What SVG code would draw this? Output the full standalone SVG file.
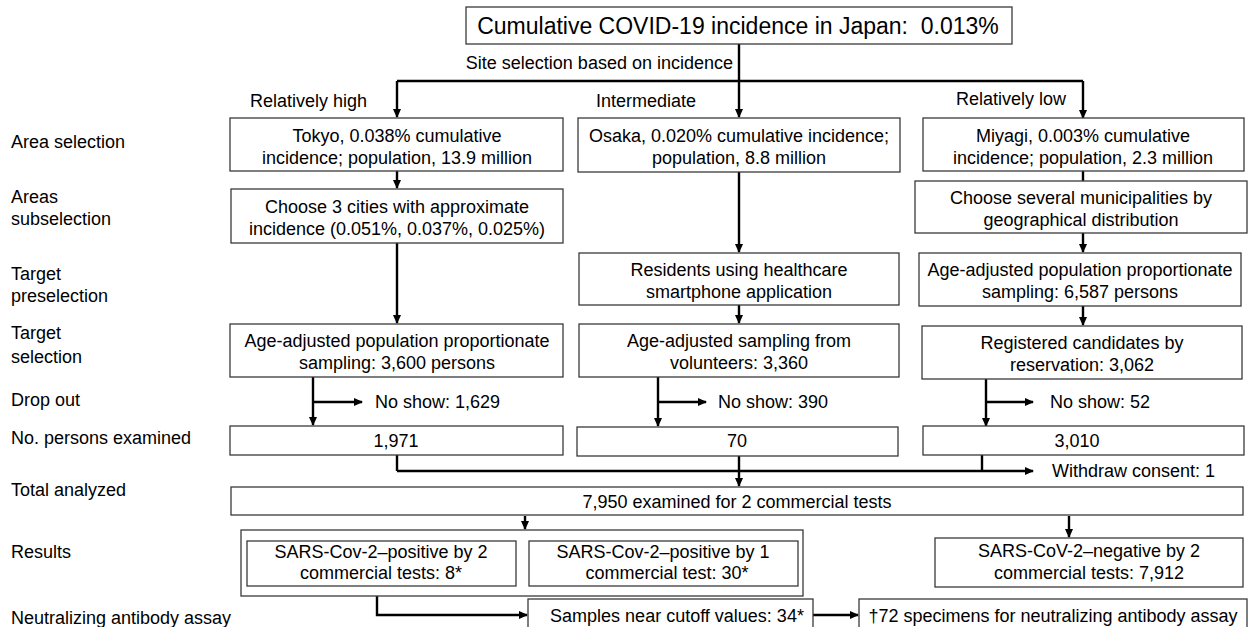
<svg xmlns="http://www.w3.org/2000/svg" width="1251" height="627" viewBox="0 0 1251 627">
<defs>
<style>
text{font-family:"Liberation Sans",Arial,sans-serif;font-size:18px;fill:#000}
.t{font-size:23px}
.c{text-anchor:middle}
.box{fill:#fff;stroke:#3a3a3a;stroke-width:1.3}
.ln{fill:none;stroke:#000;stroke-width:2.4}
.ar{fill:none;stroke:#000;stroke-width:2.4;marker-end:url(#ah)}
</style>
<marker id="ah" markerUnits="userSpaceOnUse" markerWidth="10" markerHeight="10" refX="8" refY="4" orient="auto">
<path d="M0,0 L9,4 L0,8 Z" fill="#000"/>
</marker>
</defs>
<rect width="1251" height="627" fill="#fff"/>

<g id="labels">
<text x="11" y="148">Area selection</text>
<text x="11" y="203">Areas</text>
<text x="11" y="225">subselection</text>
<text x="11" y="280">Target</text>
<text x="11" y="302">preselection</text>
<text x="11" y="339">Target</text>
<text x="11" y="363">selection</text>
<text x="11" y="406">Drop out</text>
<text x="11" y="444">No. persons examined</text>
<text x="11" y="496">Total analyzed</text>
<text x="11" y="558">Results</text>
<text x="11" y="624">Neutralizing antibody assay</text>
<text x="733" y="69" text-anchor="end">Site selection based on incidence</text>
<text x="250" y="107">Relatively high</text>
<text x="596" y="107">Intermediate</text>
<text x="956" y="105">Relatively low</text>
<text x="375" y="408">No show: 1,629</text>
<text x="718" y="408">No show: 390</text>
<text x="1050" y="408">No show: 52</text>
<text x="1052" y="477">Withdraw consent: 1</text>
</g>

<g id="connectors">
<path class="ar" d="M739,44 V117"/>
<path class="ln" d="M397,81 H1083"/>
<path class="ar" d="M397,81 V117"/>
<path class="ar" d="M1083,81 V118"/>
<path class="ar" d="M397,171 V188"/>
<path class="ln" d="M1083,171 V181"/>
<path class="ar" d="M739,172 V252"/>
<path class="ar" d="M1083,233 V252"/>
<path class="ar" d="M397,243 V323"/>
<path class="ar" d="M739,305 V323"/>
<path class="ar" d="M1083,306 V325"/>
<path class="ar" d="M313,377 V425"/>
<path class="ar" d="M313,402 H362"/>
<path class="ar" d="M658,377 V426"/>
<path class="ar" d="M658,402 H706"/>
<path class="ar" d="M986,379 V426"/>
<path class="ar" d="M986,402 H1033"/>
<path class="ln" d="M397,455 V471"/>
<path class="ln" d="M982,455 V471"/>
<path class="ar" d="M397,471 H1033"/>
<path class="ar" d="M739,456 V486"/>
<path class="ar" d="M525,516 V529"/>
<path class="ar" d="M1069,516 V537"/>
<path class="ar" d="M377,596 V615 H527"/>
<path class="ar" d="M813,615 H858"/>
</g>

<g id="n-title"><rect class="box" x="466" y="7" width="546" height="37"/><text class="t c" x="738" y="34">Cumulative COVID-19 incidence in Japan:&#160; 0.013%</text></g>

<g id="n-tokyo"><rect class="box" x="230" y="118" width="333" height="53"/><text class="c" x="397" y="142">Tokyo, 0.038% cumulative</text><text class="c" x="397" y="164">incidence; population, 13.9 million</text></g>
<g id="n-osaka"><rect class="box" x="578" y="118" width="322" height="54"/><text class="c" x="739" y="142">Osaka, 0.020% cumulative incidence;</text><text class="c" x="739" y="164">population, 8.8 million</text></g>
<g id="n-miyagi"><rect class="box" x="923" y="118" width="321" height="53"/><text class="c" x="1083" y="142">Miyagi, 0.003% cumulative</text><text class="c" x="1083" y="164">incidence; population, 2.3 million</text></g>

<g id="n-tokyo-sub"><rect class="box" x="231" y="189" width="332" height="54"/><text class="c" x="397" y="213">Choose 3 cities with approximate</text><text class="c" x="397" y="235">incidence (0.051%, 0.037%, 0.025%)</text></g>
<g id="n-miyagi-sub"><rect class="box" x="915" y="181" width="332" height="52"/><text class="c" x="1081" y="204">Choose several municipalities by</text><text class="c" x="1081" y="226">geographical distribution</text></g>

<g id="n-osaka-pre"><rect class="box" x="579" y="253" width="320" height="52"/><text class="c" x="739" y="276">Residents using healthcare</text><text class="c" x="739" y="298">smartphone application</text></g>
<g id="n-miyagi-pre"><rect class="box" x="919" y="253" width="322" height="53"/><text class="c" x="1080" y="276">Age-adjusted population proportionate</text><text class="c" x="1080" y="298">sampling: 6,587 persons</text></g>

<g id="n-tokyo-target"><rect class="box" x="230" y="324" width="333" height="53"/><text class="c" x="397" y="347">Age-adjusted population proportionate</text><text class="c" x="397" y="369">sampling: 3,600 persons</text></g>
<g id="n-osaka-target"><rect class="box" x="579" y="324" width="320" height="53"/><text class="c" x="739" y="347">Age-adjusted sampling from</text><text class="c" x="739" y="369">volunteers: 3,360</text></g>
<g id="n-miyagi-target"><rect class="box" x="922" y="326" width="320" height="53"/><text class="c" x="1082" y="349">Registered candidates by</text><text class="c" x="1082" y="371">reservation: 3,062</text></g>

<g id="n-tokyo-exam"><rect class="box" x="230" y="426" width="333" height="29"/><text class="c" x="396" y="447">1,971</text></g>
<g id="n-osaka-exam"><rect class="box" x="577" y="427" width="321" height="29"/><text class="c" x="737" y="447">70</text></g>
<g id="n-miyagi-exam"><rect class="box" x="923" y="426" width="321" height="29"/><text class="c" x="1077" y="447">3,010</text></g>

<g id="n-total"><rect class="box" x="231" y="487" width="1012" height="28"/><text class="c" x="737" y="508">7,950 examined for 2 commercial tests</text></g>

<g id="n-positive"><rect class="box" x="241" y="530" width="562" height="66"/></g>
<g id="n-pos2"><rect class="box" x="247" y="541" width="269" height="45"/><text class="c" x="381" y="558">SARS-Cov-2–positive by 2</text><text class="c" x="381" y="579">commercial tests: 8*</text></g>
<g id="n-pos1"><rect class="box" x="529" y="541" width="269" height="45"/><text class="c" x="663" y="558">SARS-Cov-2–positive by 1</text><text class="c" x="667" y="579">commercial test: 30*</text></g>
<g id="n-negative"><rect class="box" x="935" y="538" width="308" height="49"/><text class="c" x="1089" y="557">SARS-CoV-2–negative by 2</text><text class="c" x="1089" y="579">commercial tests: 7,912</text></g>

<g id="n-samples"><rect class="box" x="528" y="599" width="285" height="40"/><text class="c" x="677" y="622">Samples near cutoff values: 34*</text></g>
<g id="n-specimens"><rect class="box" x="859" y="599" width="388" height="40"/><text class="c" x="1053" y="622">†72 specimens for neutralizing antibody assay</text></g>
</svg>
